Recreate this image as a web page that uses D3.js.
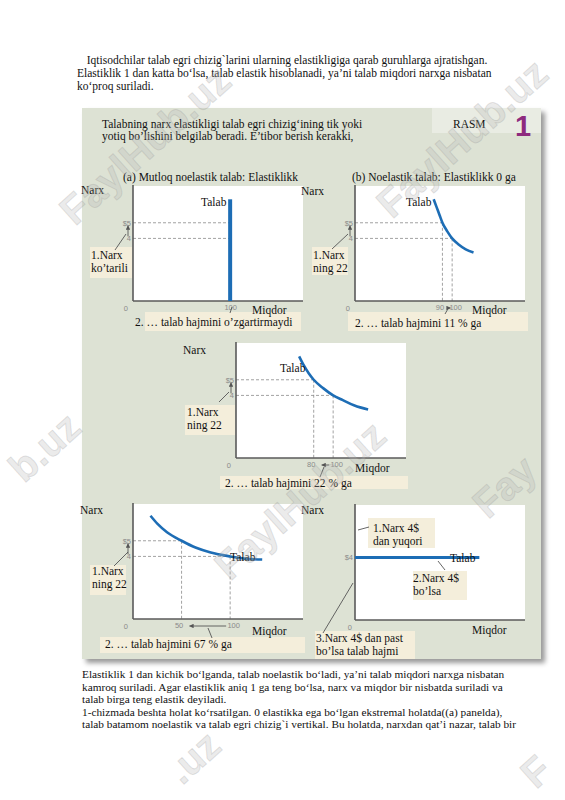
<!DOCTYPE html>
<html><head><meta charset="utf-8">
<script src="https://cdn.jsdelivr.net/npm/d3@7"></script>
<style>
html,body{margin:0;padding:0;background:#fff;}
svg{display:block;}
</style></head>
<body>
<script>
// ---------- data ----------
const introLines = [
  "  Iqtisodchilar talab egri chizig`larini ularning elastikligiga qarab guruhlarga ajratishgan.",
  "Elastiklik 1 dan katta bo‘lsa, talab elastik hisoblanadi, ya’ni talab miqdori narxga nisbatan",
  "ko‘proq suriladi."
];
const outroLines = [
  "Elastiklik 1 dan kichik bo‘lganda, talab noelastik bo‘ladi, ya’ni talab miqdori narxga nisbatan",
  "kamroq suriladi. Agar elastiklik aniq 1 ga teng bo‘lsa, narx va miqdor bir nisbatda suriladi va",
  "talab birga teng elastik deyiladi.",
  "1-chizmada beshta holat ko‘rsatilgan. 0 elastikka ega bo‘lgan ekstremal holatda((a) panelda),",
  "talab batamom noelastik va talab egri chizig`i vertikal. Bu holatda, narxdan qat’i nazar, talab bir"
];
const headerLines = [
  "Talabning narx elastikligi talab egri chizig‘ining tik yoki",
  "yotiq bo’lishini belgilab beradi. E’tibor berish kerakki,"
];
const panelTitles = ["(a) Mutloq noelastik talab: Elastiklikk", "(b) Noelastik talab: Elastiklikk 0 ga"];
const priceLevels = [5, 4];
const priceTickLabels = ["$5", "4"];
const priceLevelE = [4];
const priceTickLabelE = ["$4"];
const demandA = [[100, 0], [100, 6.5]];
const demandB = [[81, 6.5], [84, 6.0], [87, 5.5], [90, 5], [95, 4.45], [100, 4], [107, 3.6], [114, 3.3], [122, 3.1]];
const demandC = [[65, 6.5], [70, 5.9], [75, 5.4], [80, 5], [90, 4.45], [100, 4], [110, 3.7], [122, 3.35], [136, 3.1]];
const demandD = [[18, 6.6], [25, 6.1], [35, 5.55], [50, 5], [65, 4.55], [80, 4.25], [100, 4.0], [115, 3.86], [133, 3.8]];
const demandE = [[0, 4], [128, 4]];
const qtyA = [100, 100];
const qtyB = [90, 100];
const qtyC = [80, 100];
const qtyD = [50, 100];
const priceLabels = [["1.Narx", "ko’tarili"], ["1.Narx", "ning 22"], ["1.Narx", "ning 22"], ["1.Narx", "ning 22"]];
const qtyLabels = ["2. … talab hajmini o’zgartirmaydi", "2. … talab hajmini 11 % ga", "2. … talab hajmini 22 % ga", "2. … talab hajmini 67 % ga"];
const labelsE = [["1.Narx 4$", "dan yuqori"], ["2.Narx 4$", "bo’lsa"], ["3.Narx 4$ dan past", "bo’lsa talab hajmi"]];
const axisNames = ["Narx", "Miqdor", "Talab"];
const figureTag = ["RASM", "1"];
const watermark = "FaylHub.uz";
const watermarkBits = ["b.uz", "Fay", ".uz", "F"];

// ---------- drawing ----------
const serif = "'Liberation Serif','Times New Roman',serif";
const sans = "'Liberation Sans',Arial,sans-serif";
const FS = 11.5;
const svg = d3.select("body").append("svg").attr("width", 565).attr("height", 800);
const defs = svg.append("defs");
const f = defs.append("filter").attr("id", "sh").attr("x", "-5%").attr("y", "-5%").attr("width", "115%").attr("height", "115%");
f.append("feDropShadow").attr("dx", 4).attr("dy", 4).attr("stdDeviation", 2.5).attr("flood-color", "#000").attr("flood-opacity", 0.4);
const mk = defs.append("marker").attr("id", "ah").attr("viewBox", "0 0 10 10").attr("refX", 9).attr("refY", 5)
  .attr("markerWidth", 5).attr("markerHeight", 5).attr("orient", "auto-start-reverse");
mk.append("path").attr("d", "M0,0L10,5L0,10z").attr("fill", "#555");

function textLines(g, lines, x, y0, dy, size, opts = {}) {
  lines.forEach((t, i) => {
    g.append("text").attr("x", x).attr("y", y0 + i * dy).attr("font-family", opts.family || serif)
      .attr("font-size", size).attr("fill", opts.fill || "#111").attr("xml:space", "preserve").style("white-space", "pre").text(t);
  });
}

// intro text
textLines(svg, introLines.slice(0, 1), 81, 64, 12.7, FS);
textLines(svg, introLines.slice(1), 77, 77, 12.7, FS);

// panel
svg.append("rect").attr("x", 82).attr("y", 108).attr("width", 459).attr("height", 551)
  .attr("fill", "#dde2d4").attr("filter", "url(#sh)");
svg.append("rect").attr("x", 432).attr("y", 108).attr("width", 109).attr("height", 25).attr("fill", "#e9ece3");

textLines(svg, headerLines, 102, 128, 11.5, FS);
svg.append("text").attr("x", 453).attr("y", 128).attr("font-family", serif).attr("font-size", FS).attr("fill", "#111").text(figureTag[0]);
svg.append("text").attr("x", 515).attr("y", 136).attr("font-family", sans).attr("font-weight", "bold").attr("font-size", 29).attr("fill", "#8e2a7e").text(figureTag[1]);
svg.append("text").attr("x", 123).attr("y", 181).attr("font-family", serif).attr("font-size", FS).attr("fill", "#111").text(panelTitles[0]);
svg.append("text").attr("x", 352).attr("y", 181).attr("font-family", serif).attr("font-size", FS).attr("fill", "#111").text(panelTitles[1]);

const W = 170, H = 115;
const x = d3.scaleLinear().domain([0, 175]).range([0, W]);
const y = d3.scaleLinear().domain([0, 7.35]).range([H, 0]);
const line = d3.line().x(d => x(d[0])).y(d => y(d[1])).curve(d3.curveMonotoneX);
const blue = "#1d6db5";

const beige = "#f4eedb";
function box(x0, y0, w, h) {
  svg.append("rect").attr("x", x0).attr("y", y0).attr("width", w).attr("height", h).attr("fill", beige);
}
function seg(x1, y1, x2, y2, arrow) {
  const l = svg.append("line").attr("x1", x1).attr("y1", y1).attr("x2", x2).attr("y2", y2)
    .attr("stroke", "#555").attr("stroke-width", 0.9);
  if (arrow) l.attr("marker-end", "url(#ah)");
  return l;
}

const panels = [
  {ox: 133, oy: 186, data: demandA, qty: qtyA, vertical: true, narx: [81, 194], miqdor: [252, 314], talab: [201, 206],
   pl: {box: [90, 247, 42, 31], tx: 91, ty: 259, ptr: [115, 250, 126, 234]},
   ql: {box: [145, 312, 156, 19], tx: 135, ty: 326, ptr: [230, 313, 232, 307]}},
  {ox: 355, oy: 186, data: demandB, qty: qtyB, narx: [301, 195], miqdor: [472, 314], talab: [406, 206],
   pl: {box: [312, 247, 36, 28], tx: 313, ty: 259, ptr: [332, 249, 348, 234]},
   ql: {box: [348, 312, 180, 19], tx: 355, ty: 327, ptr: [445, 314, 449, 307]}},
  {ox: 236, oy: 343, data: demandC, qty: qtyC, narx: [183, 354], miqdor: [355, 472], talab: [280, 372],
   pl: {box: [185, 405, 50, 30], tx: 187, ty: 416, ptr: [219, 402, 229, 392]},
   ql: {box: [220, 476, 188, 13], tx: 225, ty: 487, ptr: [320, 477, 324, 467]}},
  {ox: 133, oy: 504, data: demandD, qty: qtyD, narx: [80, 514], miqdor: [252, 635], talab: [230, 561],
   pl: {box: [90, 565, 36, 30], tx: 92, ty: 575, ptr: [114, 566, 128, 552]},
   ql: {box: [100, 637, 205, 16], tx: 105, ty: 648, ptr: [212, 638, 208, 628]}}
];

panels.forEach((p, i) => {
  const g = svg.append("g").attr("transform", `translate(${p.ox},${p.oy})`);
  box(...p.pl.box);
  box(...p.ql.box);
  g.append("rect").attr("width", W).attr("height", H).attr("fill", "#fff");
  priceLevels.forEach((pr, k) => {
    const q = p.qty[k];
    g.append("line").attr("x1", 0).attr("x2", x(q)).attr("y1", y(pr)).attr("y2", y(pr))
      .attr("stroke", "#8a8a8a").attr("stroke-width", 0.8).attr("stroke-dasharray", "3,2");
    if (!p.vertical) {
      g.append("line").attr("x1", x(q)).attr("x2", x(q)).attr("y1", y(pr)).attr("y2", H)
        .attr("stroke", "#8a8a8a").attr("stroke-width", 0.8).attr("stroke-dasharray", "3,2");
    }
  });
  const ay = g.append("g").call(d3.axisLeft(y).tickValues(priceLevels).tickFormat((d, j) => priceTickLabels[j]).tickSize(0).tickPadding(2));
  const xt = p.vertical ? [100] : p.qty;
  const ax = g.append("g").attr("transform", `translate(0,${H})`).call(d3.axisBottom(x).tickValues(xt).tickSize(0).tickPadding(4));
  [ay, ax].forEach(a => {
    a.select(".domain").attr("stroke", "#5a5a5a").attr("stroke-width", 1.6);
    a.selectAll("text").attr("font-family", sans).attr("font-size", 7.5).attr("fill", "#8a8a8a");
  });
  ay.select(".domain").attr("d", `M0,-1V${H}`);
  ax.select(".domain").attr("d", `M0,0H${W}`);
  if (!p.vertical) {
    ax.selectAll(".tick text").attr("dx", (d, j) => j === 0 ? -3 : 3);
  }
  g.append("text").attr("x", -5).attr("y", H + 10).attr("text-anchor", "end").attr("font-family", sans)
    .attr("font-size", 7.5).attr("fill", "#8a8a8a").text("0");
  g.append("line").attr("x1", -5).attr("x2", -5).attr("y1", y(4) - 2).attr("y2", y(5) + 3)
    .attr("stroke", "#555").attr("stroke-width", 0.9).attr("marker-end", "url(#ah)");
  if (!p.vertical) {
    g.append("line").attr("x1", x(p.qty[1]) - 4).attr("x2", x(p.qty[0]) + 8).attr("y1", H + 7).attr("y2", H + 7)
      .attr("stroke", "#555").attr("stroke-width", 0.9).attr("marker-end", "url(#ah)");
  }
  g.append("path").datum(p.data).attr("d", line).attr("fill", "none").attr("stroke", blue)
    .attr("stroke-width", p.vertical ? 4 : 2.6);
  svg.append("text").attr("x", p.narx[0]).attr("y", p.narx[1]).attr("font-family", serif).attr("font-size", FS).attr("fill", "#111").text(axisNames[0]);
  svg.append("text").attr("x", p.miqdor[0]).attr("y", p.miqdor[1]).attr("font-family", serif).attr("font-size", FS).attr("fill", "#111").text(axisNames[1]);
  svg.append("text").attr("x", p.talab[0]).attr("y", p.talab[1]).attr("font-family", serif).attr("font-size", FS).attr("fill", "#111").text(axisNames[2]);
  textLines(svg, priceLabels[i], p.pl.tx, p.pl.ty, 12.5, FS);
  seg(...p.pl.ptr);
  textLines(svg, [qtyLabels[i]], p.ql.tx, p.ql.ty, 12, FS);
  seg(...p.ql.ptr);
});

// panel e: perfectly elastic
{
  const ox = 355, oy = 505;
  box(315, 631, 100, 28);
  const g = svg.append("g").attr("transform", `translate(${ox},${oy})`);
  g.append("rect").attr("width", W).attr("height", H).attr("fill", "#fff");
  const ay = g.append("g").call(d3.axisLeft(y).tickValues(priceLevelE).tickFormat((d, j) => priceTickLabelE[j]).tickSize(0).tickPadding(2));
  const ax = g.append("g").attr("transform", `translate(0,${H})`).call(d3.axisBottom(x).tickValues([]).tickSize(0));
  [ay, ax].forEach(a => {
    a.select(".domain").attr("stroke", "#5a5a5a").attr("stroke-width", 1.6);
    a.selectAll("text").attr("font-family", sans).attr("font-size", 7.5).attr("fill", "#8a8a8a");
  });
  ay.select(".domain").attr("d", `M0,-1V${H}`);
  ax.select(".domain").attr("d", `M0,0H${W}`);
  g.append("text").attr("x", -3).attr("y", H + 10).attr("text-anchor", "end").attr("font-family", sans)
    .attr("font-size", 7.5).attr("fill", "#8a8a8a").text("0");
  box(368, 518, 67, 30);
  box(413, 571, 54, 29);
  g.append("path").datum(demandE).attr("d", line).attr("fill", "none").attr("stroke", blue).attr("stroke-width", 3);
  svg.append("text").attr("x", 450).attr("y", 562).attr("font-family", serif).attr("font-size", FS).attr("fill", "#111").text(axisNames[2]);
  svg.append("text").attr("x", 301).attr("y", 514).attr("font-family", serif).attr("font-size", FS).attr("fill", "#111").text(axisNames[0]);
  svg.append("text").attr("x", 472).attr("y", 634).attr("font-family", serif).attr("font-size", FS).attr("fill", "#111").text(axisNames[1]);
  textLines(svg, labelsE[0], 373, 532, 12.5, FS);
  textLines(svg, labelsE[1], 413, 582, 13, FS);
  textLines(svg, labelsE[2], 316, 642, 12.5, FS);
  seg(358, 530, 369, 527);
  seg(438, 561, 445, 570);
  seg(323, 633, 353, 583);
}

// closing text
textLines(svg, outroLines, 82, 678, 12.5, 11.3);

// watermarks
const wm = svg.append("g").attr("pointer-events", "none");
function wmText(t, px, py, anchor) {
  wm.append("text").attr("transform", `translate(${px},${py}) rotate(-42)`).attr("text-anchor", anchor)
    .attr("dy", anchor === "middle" ? "0.35em" : 0).attr("font-family", sans).attr("font-weight", "bold").attr("font-size", 40)
    .attr("fill", "#b8b8b8").attr("fill-opacity", 0.28).attr("stroke", "#888").attr("stroke-opacity", 0.22)
    .attr("stroke-width", 1).text(t);
}
[[145, 145], [462, 138], [300, 500]].forEach(c => wmText(watermark, c[0], c[1], "middle"));
wmText(watermarkBits[0], 24, 484, "start");
wmText(watermarkBits[1], 488, 520, "start");
wmText(watermarkBits[2], 182, 786, "start");
wmText(watermarkBits[3], 536, 790, "start");
</script>
</body></html>
